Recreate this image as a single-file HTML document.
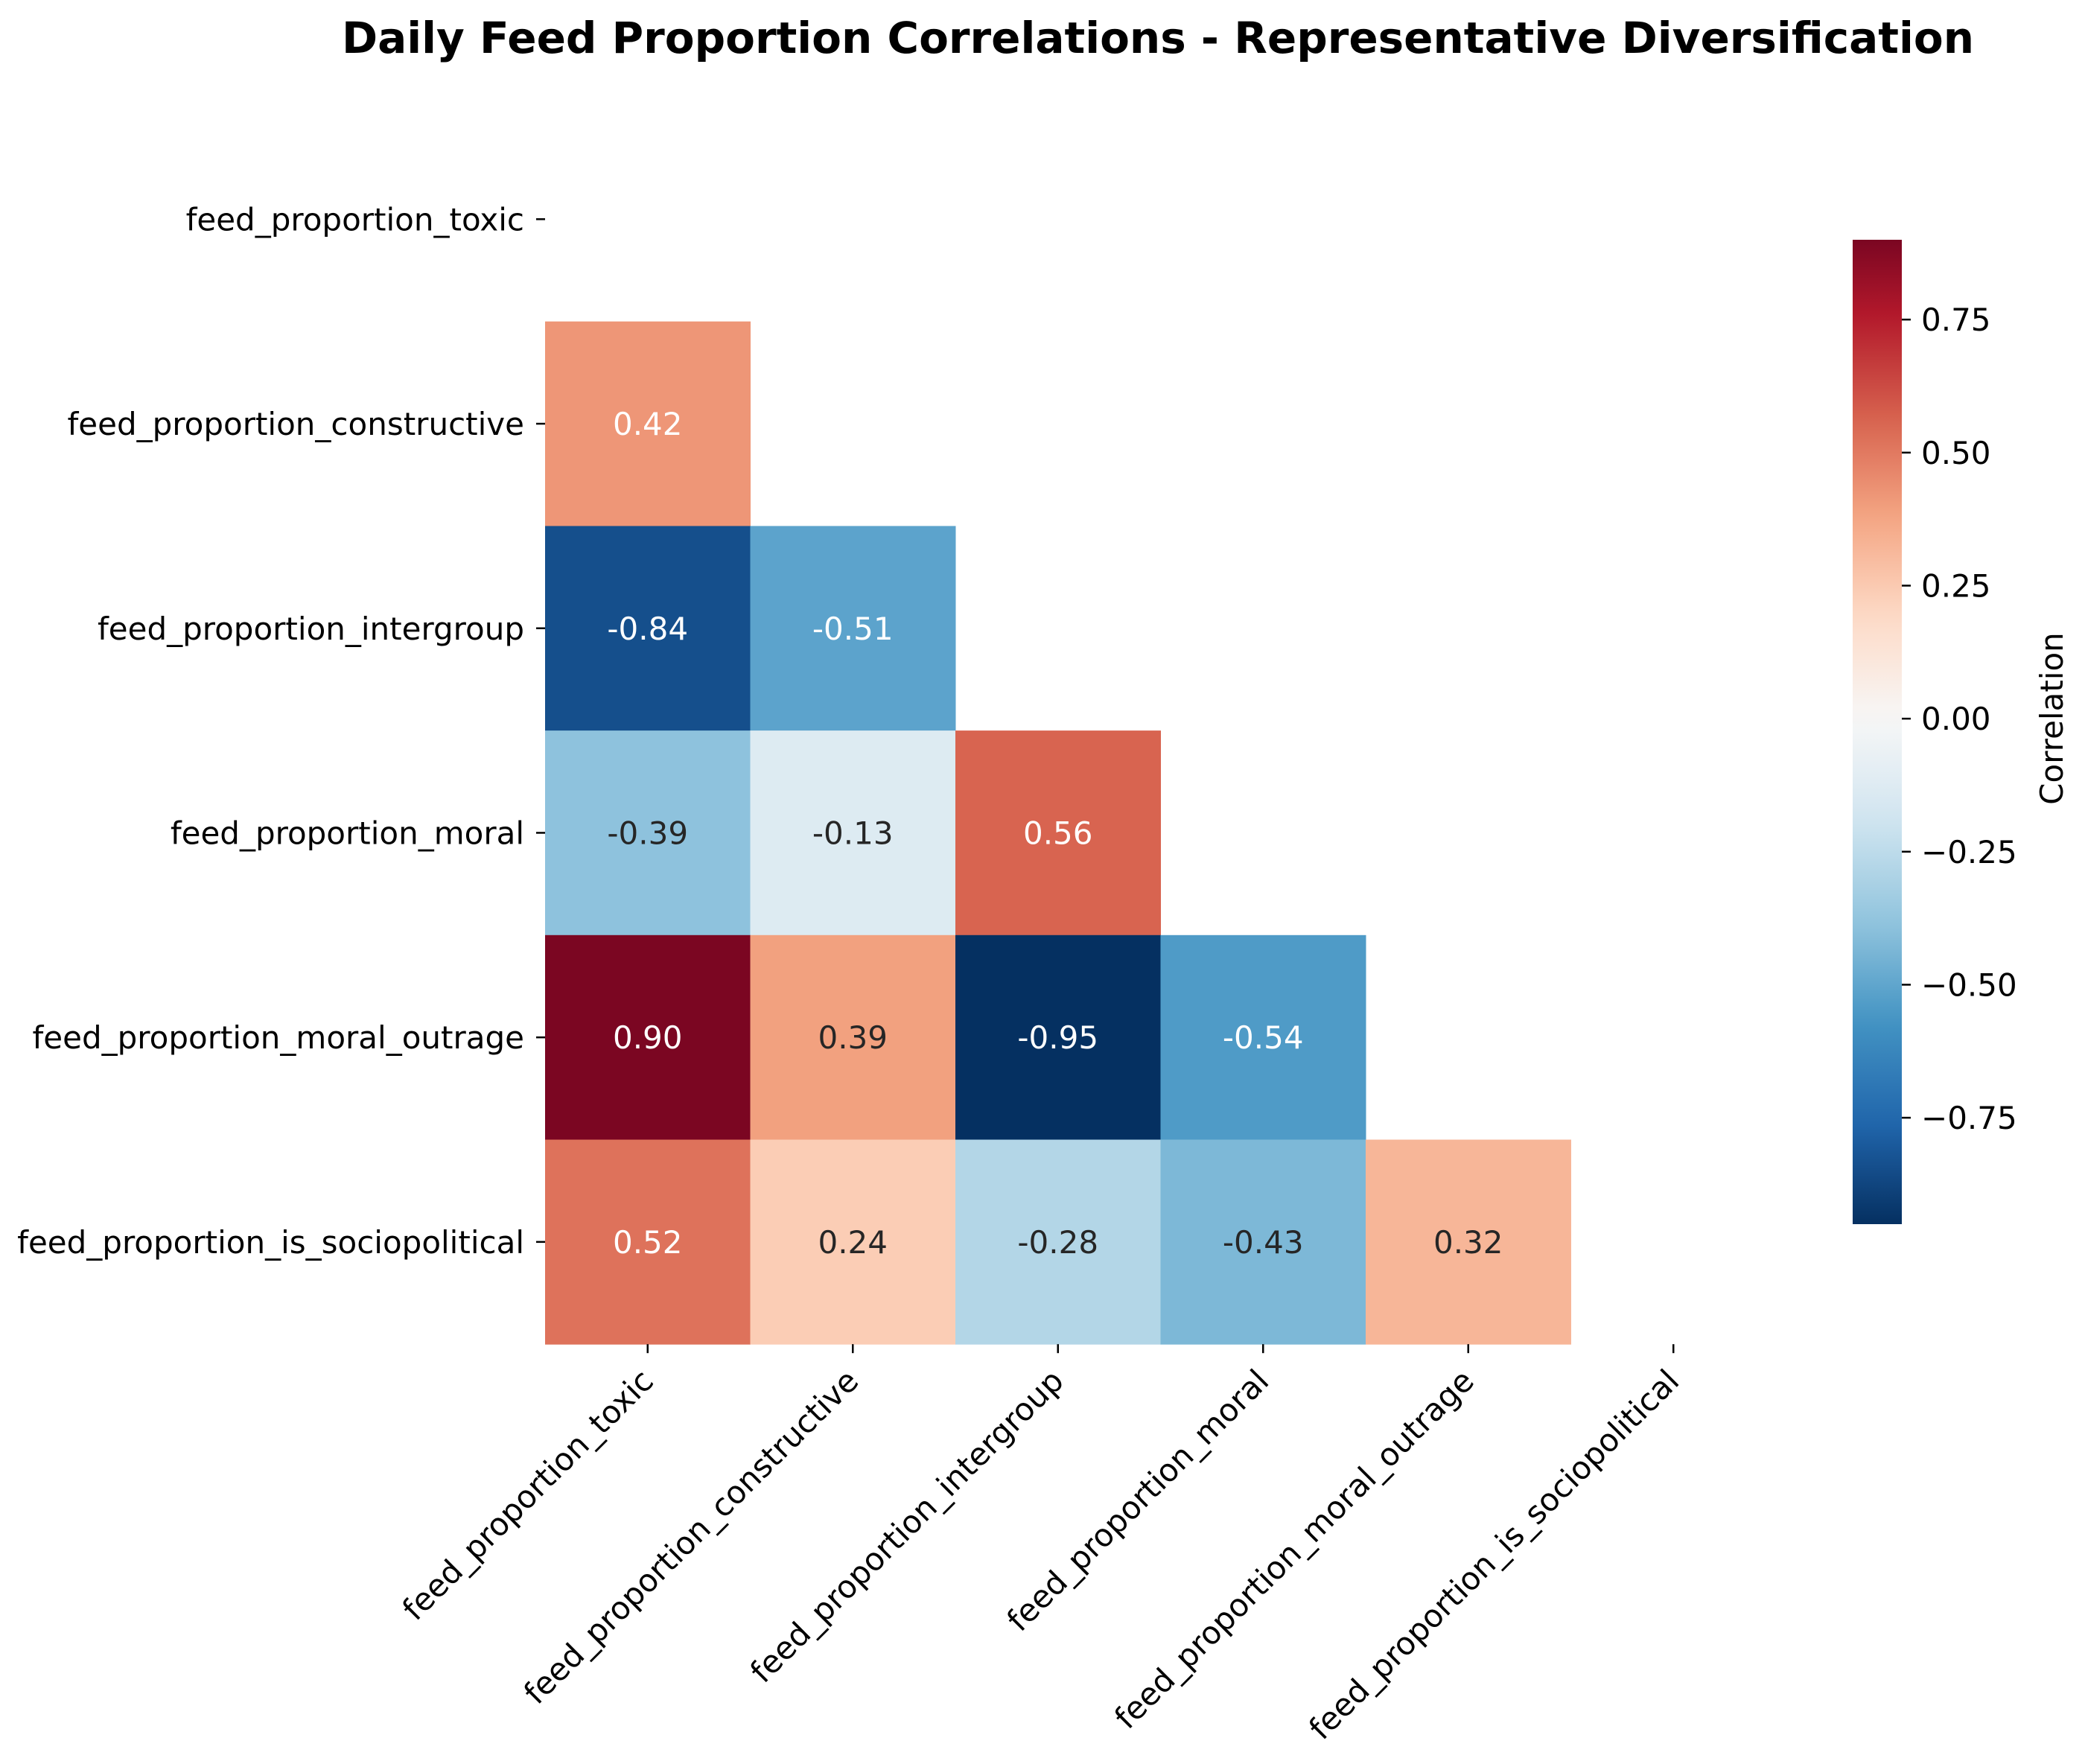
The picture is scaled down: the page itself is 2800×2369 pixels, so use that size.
<!DOCTYPE html>
<html><head><meta charset="utf-8"><style>
html,body{margin:0;padding:0;background:#fff;}
svg{display:block;font-family:"DejaVu Sans","Liberation Sans",sans-serif;}
</style></head><body>
<svg id="chart" width="2800" height="2369" viewBox="0 0 2800 2369" xmlns="http://www.w3.org/2000/svg">
<text x="1555" y="71" text-anchor="middle" font-size="58" font-weight="bold" fill="#000">Daily Feed Proportion Correlations - Representative Diversification</text>
<defs><linearGradient id="cbgrad" x1="0" y1="1" x2="0" y2="0"></linearGradient></defs>
<g id="cells"></g><g id="yaxis"></g><g id="xaxis"></g><g id="cbar"></g>
</svg>
<script>
const categories = ["feed_proportion_toxic","feed_proportion_constructive","feed_proportion_intergroup","feed_proportion_moral","feed_proportion_moral_outrage","feed_proportion_is_sociopolitical"];
const rowToxic = [];
const rowConstructive = [0.42];
const rowIntergroup = [-0.84,-0.51];
const rowMoral = [-0.39,-0.13,0.56];
const rowOutrage = [0.90,0.39,-0.95,-0.54];
const rowSocio = [0.52,0.24,-0.28,-0.43,0.32];
const colorbarTicks = [0.75,0.5,0.25,0,-0.25,-0.5,-0.75];
const rows=[rowToxic,rowConstructive,rowIntergroup,rowMoral,rowOutrage,rowSocio];
const NS="http://www.w3.org/2000/svg";
const L=732,T=157,CW=275.5,CH=274.7,FS=42;
const all=rows.flat();const vmin=Math.min(...all),vmax=Math.max(...all);
const vr=Math.max(Math.abs(vmin),Math.abs(vmax));
const stops=["#053061","#2166ac","#4393c3","#92c5de","#d1e5f0","#f7f7f7","#fddbc7","#f4a582","#d6604d","#b2182b","#67001f"].map(h=>[parseInt(h.slice(1,3),16),parseInt(h.slice(3,5),16),parseInt(h.slice(5,7),16)]);
function cmap(v){let t=(v+vr)/(2*vr);t=Math.max(0,Math.min(1,t));const p=t*10,i=Math.min(9,Math.floor(p)),f=p-i;return stops[i].map((c,k)=>Math.round(c+(stops[i+1][k]-c)*f));}
function lum(c){const l=c.map(x=>{x/=255;return x<=0.03928?x/12.92:Math.pow((x+0.055)/1.055,2.4)});return 0.2126*l[0]+0.7152*l[1]+0.0722*l[2];}
const xS=i=>L+i*CW, yS=j=>T+j*CH;
function mk(tag,attrs,parent){const e=document.createElementNS(NS,tag);for(const k in attrs)e.setAttribute(k,attrs[k]);document.getElementById(parent).appendChild(e);return e;}
rows.forEach((r,j)=>r.forEach((v,i)=>{
 const c=cmap(v);
 const rect=mk("rect",{x:xS(i),y:yS(j),width:CW+0.5,height:CH+0.5,fill:`rgb(${c})`},"cells");
 
 
 const t=mk("text",{x:xS(i)+CW/2,y:yS(j)+CH/2+15,"text-anchor":"middle","font-size":FS,fill:lum(c)>0.435?"#262626":"#ffffff"},"cells");
 t.textContent=v.toFixed(2);
 
 
}));
categories.forEach((c,j)=>{
 const y=yS(j)+CH/2;
 const tk=mk("line",{x1:L-12,x2:L,y1:y,y2:y,stroke:"#000","stroke-width":2.5},"yaxis");
 
 
 const t=mk("text",{x:L-28,y:y+15,"text-anchor":"end","font-size":FS,fill:"#000"},"yaxis");
 t.textContent=c;
 
 
 const x=xS(j)+CW/2,b=T+6*CH;
 const tx=mk("line",{x1:x,x2:x,y1:b,y2:b+12,stroke:"#000","stroke-width":2.5},"xaxis");
 
 
 const xl=mk("text",{x:x+10,y:b+52,"text-anchor":"end","font-size":FS,fill:"#000",transform:`rotate(-45 ${x+10} ${b+52})`},"xaxis");
 xl.textContent=c;
 
 
});
// colorbar
const CBX=2488,CBW=66,CBT=322,CBB=1644;
const g=document.getElementById("cbgrad");
for(let k=0;k<=40;k++){const v=vmin+(vmax-vmin)*k/40;const c=cmap(v);const s=document.createElementNS(NS,"stop");s.setAttribute("offset",k/40);s.setAttribute("stop-color",`rgb(${c})`);g.appendChild(s);}
const cbS=v=>CBB-(v-vmin)/(vmax-vmin)*(CBB-CBT);
const cb=mk("rect",{x:CBX,y:CBT,width:CBW,height:CBB-CBT,fill:"url(#cbgrad)"},"cbar");


colorbarTicks.forEach(v=>{
 const y=cbS(v);
 const tk=mk("line",{x1:CBX+CBW,x2:CBX+CBW+12,y1:y,y2:y,stroke:"#000","stroke-width":2.5},"cbar");
 
 
 const t=mk("text",{x:CBX+CBW+26,y:y+15,"font-size":FS,fill:"#000"},"cbar");
 t.textContent=(v<0?"\u2212":"")+Math.abs(v).toFixed(2);
 
 
});
const cl=mk("text",{x:2770,y:965,"text-anchor":"middle","font-size":FS,fill:"#000",transform:"rotate(-90 2770 965)"},"cbar");
cl.textContent="Correlation";


</script>
</body></html>
